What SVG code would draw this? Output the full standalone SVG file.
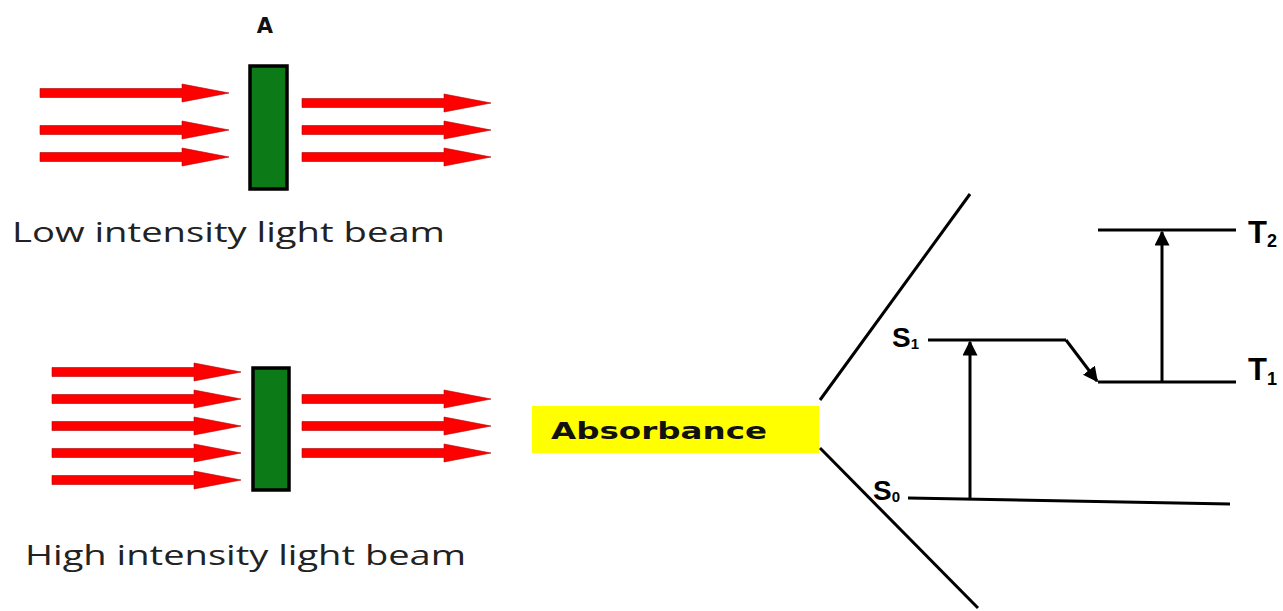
<svg xmlns="http://www.w3.org/2000/svg" xmlns:xlink="http://www.w3.org/1999/xlink" width="1283" height="611" viewBox="0 0 1283 611">
<style>
.beam{fill:#ff0000;stroke:#b00000;stroke-width:0.6}
.cell{fill:#0c7a16;stroke:#000;stroke-width:3.5}
.cap{font-family:"Open Sans","Liberation Sans",sans-serif;font-size:27px;fill:#222}
.ln{stroke:#000;stroke-width:3;fill:none}
.lab{font-family:"Liberation Sans",Arial,sans-serif;font-weight:bold;fill:#000}
</style>
<defs>
<path id="beam" class="beam" d="M0,-4.5 H142 V-9 L189,0 L142,9 V4.5 H0 Z"/>
<marker id="ah" viewBox="0 0 10 10" refX="9" refY="5" markerWidth="5" markerHeight="5" orient="auto" markerUnits="strokeWidth">
<path d="M0,0 L10,5 L0,10 Z" fill="#000"/>
</marker>
</defs>
<rect width="1283" height="611" fill="#fff"/>
<g id="low-beam">
<text x="265" y="33" text-anchor="middle" style="font-family:'DejaVu Sans',Verdana,sans-serif;font-weight:bold;font-size:21px;fill:#111">A</text>
<use xlink:href="#beam" x="40" y="93"/>
<use xlink:href="#beam" x="40" y="130"/>
<use xlink:href="#beam" x="40" y="157"/>
<rect class="cell" x="250" y="66" width="37" height="123"/>
<use xlink:href="#beam" x="302" y="103"/>
<use xlink:href="#beam" x="302" y="130"/>
<use xlink:href="#beam" x="302" y="157"/>
<text class="cap" x="12" y="242" textLength="433" lengthAdjust="spacingAndGlyphs">Low intensity light beam</text>
</g>
<g id="high-beam">
<use xlink:href="#beam" x="52" y="372"/>
<use xlink:href="#beam" x="52" y="399"/>
<use xlink:href="#beam" x="52" y="426"/>
<use xlink:href="#beam" x="52" y="453"/>
<use xlink:href="#beam" x="52" y="480"/>
<rect class="cell" x="253" y="368" width="36" height="122"/>
<use xlink:href="#beam" x="302" y="399"/>
<use xlink:href="#beam" x="302" y="426"/>
<use xlink:href="#beam" x="302" y="453"/>
<text class="cap" x="25" y="565" textLength="441" lengthAdjust="spacingAndGlyphs">High intensity light beam</text>
</g>
<g id="absorbance">
<rect x="532" y="406" width="287" height="47" fill="#ffff00"/>
<text x="551" y="439" textLength="216" lengthAdjust="spacingAndGlyphs" style="font-family:'DejaVu Sans',Verdana,sans-serif;font-weight:bold;font-size:23px;fill:#111">Absorbance</text>
</g>
<g id="connectors">
<line class="ln" x1="820" y1="400" x2="970" y2="194"/>
<line class="ln" x1="820" y1="448" x2="978" y2="608"/>
<line class="ln" x1="970" y1="498" x2="970" y2="342" marker-end="url(#ah)"/>
<polyline class="ln" points="1066,340 1097,381" marker-end="url(#ah)"/>
<line class="ln" x1="1162" y1="382" x2="1162" y2="232" marker-end="url(#ah)"/>
</g>
<g id="S1">
<line class="ln" x1="928" y1="340" x2="1066" y2="340"/>
<text class="lab" x="892" y="347" font-size="28">S<tspan font-size="15" dy="2">1</tspan></text>
</g>
<g id="S0">
<line class="ln" x1="908" y1="498" x2="1230" y2="504"/>
<text class="lab" x="873" y="500" font-size="28">S<tspan font-size="15" dy="2">0</tspan></text>
</g>
<g id="T1">
<line class="ln" x1="1098" y1="382" x2="1236" y2="382"/>
<text class="lab" x="1248" y="380" font-size="31">T<tspan font-size="18" dy="5">1</tspan></text>
</g>
<g id="T2">
<line class="ln" x1="1098" y1="230" x2="1236" y2="230"/>
<text class="lab" x="1248" y="243" font-size="31">T<tspan font-size="18" dy="4">2</tspan></text>
</g>
</svg>
